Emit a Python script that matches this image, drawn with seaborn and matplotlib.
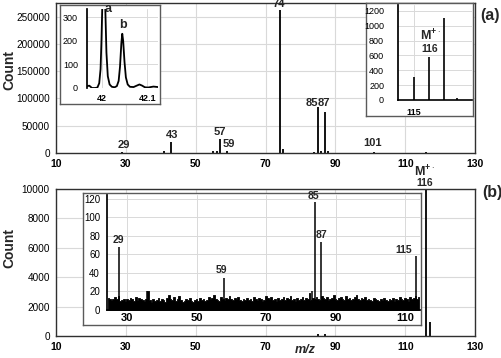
import matplotlib
matplotlib.use("Agg")
import matplotlib.pyplot as plt
import numpy as np
import pandas as pd
import seaborn as sns

# ---- data ----
# panel (a): main stick spectrum
mz_a = [29, 41, 43, 55, 56, 57, 59, 74, 75, 84, 85, 86, 87, 88, 101, 116]
count_a = [1500, 3000, 20000, 4000, 4000, 25000, 3500, 263000, 8000,
           1500, 84500, 4500, 75000, 3500, 2500, 1000]
labels_a = [("29", 29.4, 6000), ("43", 43.1, 23000), ("57", 57.0, 28500),
            ("59", 59.6, 8000), ("74", 73.8, 264500), ("85", 83.4, 82000),
            ("87", 86.7, 82000), ("101", 100.7, 9000)]

# inset a1: high resolution profile around m/z 42
profile_mz = [41.968, 41.972, 41.975, 41.978, 41.985, 41.990, 41.994, 41.997,
              41.999, 42.001, 42.003, 42.004, 42.006, 42.008, 42.010, 42.013,
              42.017, 42.022, 42.028, 42.033, 42.037, 42.040, 42.043, 42.045,
              42.047, 42.050, 42.053, 42.057, 42.062, 42.070, 42.077, 42.083,
              42.089, 42.095, 42.102, 42.108, 42.114, 42.119, 42.124]
profile_count = [8, 10, 5, 0, 0, 2, 20, 80, 200, 360, 500, 520, 450, 300, 150,
                 50, 15, 5, 3, 8, 30, 90, 190, 230, 200, 110, 45, 15, 5, 4, 10,
                 15, 10, 3, 2, 4, 6, 5, 4]

# inset a2: molecular ion region
mz_a2 = [115, 116, 117, 117.9]
count_a2 = [310, 580, 1110, 30]

# panel (b)
mz_b = [85, 87, 116, 117]
count_b = [150, 150, 12000, 950]

# inset b: low level region with noise floor
mz_bi = [27.7, 35.8, 57.8, 83.2, 84.1, 85.8, 113.2]
count_bi = [68, 20, 35, 20, 116, 73, 58]
labels_bi = [("29", 27.6, 70), ("59", 57.1, 38), ("85", 83.6, 117),
             ("87", 85.9, 75), ("115", 109.7, 59)]
noise_start, noise_step = 24.5, 0.5
noise_bi = [13, 12, 11, 12, 14, 12, 15, 10, 11, 12,
            10, 12, 11, 13, 12, 10, 14, 11, 13, 12,
            11, 10, 12, 20, 11, 9, 12, 10, 11, 13,
            10, 12, 11, 9, 13, 16, 12, 11, 14, 10,
            12, 15, 11, 9, 10, 12, 11, 13, 10, 9,
            11, 12, 10, 13, 11, 12, 10, 11, 14, 12,
            13, 16, 12, 11, 10, 14, 12, 11, 13, 12,
            15, 12, 11, 13, 12, 14, 11, 10, 12, 11,
            13, 11, 12, 10, 14, 12, 11, 13, 12, 10,
            11, 15, 13, 12, 14, 11, 12, 10, 13, 11,
            12, 14, 11, 13, 12, 15, 11, 12, 10, 13,
            11, 12, 14, 11, 13, 12, 18, 11, 13, 12,
            14, 12, 11, 15, 13, 12, 14, 11, 12, 13,
            16, 12, 11, 13, 14, 12, 11, 15, 12, 13,
            11, 12, 14, 16, 12, 11, 13, 12, 14, 11,
            12, 11, 10, 13, 12, 11, 10, 12, 11, 13,
            11, 10, 12, 11, 13, 10, 12, 11, 14, 12,
            11, 13, 12, 10, 14, 12, 13, 15, 12, 14]

# ---- style ----
sns.set_theme(style="whitegrid")
plt.rcParams["font.family"] = ["Liberation Sans", "DejaVu Sans"]
plt.rcParams["mathtext.fontset"] = "custom"
plt.rcParams["mathtext.rm"] = "Liberation Sans"
plt.rcParams["mathtext.bf"] = "Liberation Sans:bold"
GRID = "#d9d9d9"
FRAME = "#5a5a5a"
M_ION = r"$\mathbf{M}^{\mathbf{+}\cdot}$"

fig = plt.figure(figsize=(5.02, 3.58), dpi=100)


def style_main(ax, ylim, yticks):
    ax.set_xlim(10, 130)
    ax.set_ylim(*ylim)
    ax.set_xticks(range(10, 131, 20))
    ax.set_yticks(yticks)
    ax.grid(True, color=GRID, lw=0.8)
    ax.set_axisbelow(True)
    for s in ax.spines.values():
        s.set_color("#303030")
        s.set_linewidth(1.0)
    ax.tick_params(length=0, pad=4.5, colors="black")
    for t in ax.get_xticklabels():
        t.set_fontsize(7.5)
        t.set_fontweight("bold")
    for t in ax.get_yticklabels():
        t.set_fontsize(7.2)
    ax.set_xlabel("")
    ax.set_ylabel("")


def add_frame(rect):
    fr = fig.add_axes(rect, zorder=3)
    fr.set_facecolor("white")
    fr.set_xticks([])
    fr.set_yticks([])
    fr.grid(False)
    for s in fr.spines.values():
        s.set_color(FRAME)
        s.set_linewidth(1.0)
    return fr


def style_inner(ax, ypad, xpad, yfs, xfs):
    ax.set_facecolor("none")
    ax.grid(True, color=GRID, lw=0.7)
    ax.set_axisbelow(True)
    for k in ("top", "right"):
        ax.spines[k].set_visible(False)
    ax.spines["left"].set_color("black")
    ax.spines["bottom"].set_color("black")
    ax.tick_params(length=0, colors="black")
    ax.tick_params(axis="y", pad=ypad, labelsize=yfs)
    ax.tick_params(axis="x", pad=xpad, labelsize=xfs)
    for t in ax.get_xticklabels():
        t.set_fontweight("bold")
    ax.set_xlabel("")
    ax.set_ylabel("")


# ---- panel (a) ----
ax_a = fig.add_axes([0.1116, 0.5726, 0.8347, 0.419])
ax_a.vlines(mz_a, 0, count_a, color="black", lw=1.3)
style_main(ax_a, (0, 275000), range(0, 250001, 50000))
for txt, x, y in labels_a:
    ax_a.text(x, y, txt, ha="center", va="bottom", fontsize=8,
              fontweight="bold", clip_on=False)

# inset a1
add_frame([0.1195, 0.7095, 0.1992, 0.2765])
ax_a1 = fig.add_axes([0.1733, 0.7542, 0.1414, 0.2207], zorder=4)
prof = pd.DataFrame({"mz": profile_mz, "count": profile_count})
sns.lineplot(data=prof, x="mz", y="count", ax=ax_a1, color="black", lw=1.3)
ax_a1.set_xlim(41.967, 42.124)
ax_a1.set_ylim(0, 335)
ax_a1.set_xticks([42, 42.1])
ax_a1.set_xticklabels(["42", "42.1"])
ax_a1.set_yticks(range(0, 301, 100))
style_inner(ax_a1, ypad=6.5, xpad=4.5, yfs=6.5, xfs=6.5)
ax_a1.spines["bottom"].set_visible(False)
ax_a1.text(42.013, 333, "a", ha="center", va="center", fontsize=9,
           fontweight="bold", clip_on=False)
ax_a1.text(42.046, 267, "b", ha="center", va="center", fontsize=9,
           fontweight="bold")

# inset a2
add_frame([0.7291, 0.676, 0.2131, 0.3156])
ax_a2 = fig.add_axes([0.7928, 0.7207, 0.1474, 0.2654], zorder=4)
ax_a2.vlines(mz_a2, 0, count_a2, color="black", lw=1.2)
ax_a2.set_xlim(113.93, 118.87)
ax_a2.set_ylim(0, 1280)
ax_a2.set_xticks([115])
ax_a2.set_yticks(range(0, 1201, 200))
style_inner(ax_a2, ypad=10, xpad=5.5, yfs=6.5, xfs=6.5)
ax_a2.spines["bottom"].set_linewidth(1.2)
ax_a2.text(116.07, 860, M_ION, ha="center", va="center", fontsize=9)
ax_a2.text(116.07, 690, "116", ha="center", va="center", fontsize=7.5,
           fontweight="bold")

# ---- panel (b) ----
ax_b = fig.add_axes([0.1116, 0.0615, 0.8347, 0.4106])
ax_b.vlines(mz_b, 0, count_b, color="black", lw=1.3)
style_main(ax_b, (0, 10000), range(0, 10001, 2000))
ax_b.text(115.6, 11150, M_ION, ha="center", va="center", fontsize=9,
          clip_on=False)
ax_b.text(115.6, 10380, "116", ha="center", va="center", fontsize=7.5,
          fontweight="bold", clip_on=False)

# inset b
add_frame([0.1653, 0.0922, 0.6733, 0.3687])
ax_bi = fig.add_axes([0.2131, 0.1341, 0.6235, 0.3212], zorder=4)
noise_mz = noise_start + noise_step * np.arange(len(noise_bi))
ax_bi.fill_between(noise_mz, 0, noise_bi, step="mid", color="black", lw=0.6)
ax_bi.vlines(mz_bi, 0, count_bi, color="black", lw=1.1)
ax_bi.set_xlim(24.2, 114.3)
ax_bi.set_ylim(0, 124)
ax_bi.set_xticks(range(30, 111, 20))
ax_bi.set_yticks(range(0, 121, 20))
style_inner(ax_bi, ypad=5, xpad=2.5, yfs=7, xfs=8)
for txt, x, y in labels_bi:
    ax_bi.text(x, y, txt, ha="center", va="bottom", fontsize=7.5,
               fontweight="bold")

# ---- figure labels ----
fig.text(0.976, 0.958, "(a)", ha="center", va="center", fontsize=11.5,
         fontweight="bold")
fig.text(0.980, 0.461, "(b)", ha="center", va="center", fontsize=11.5,
         fontweight="bold")
fig.text(0.018, 0.804, "Count", rotation=90, ha="center", va="center",
         fontsize=10, fontweight="bold")
fig.text(0.018, 0.307, "Count", rotation=90, ha="center", va="center",
         fontsize=10, fontweight="bold")
fig.text(0.6076, 0.0223, "m/z", ha="center", va="center", fontsize=9,
         fontweight="bold", fontstyle="italic")

fig.savefig("out.png", dpi=100)
